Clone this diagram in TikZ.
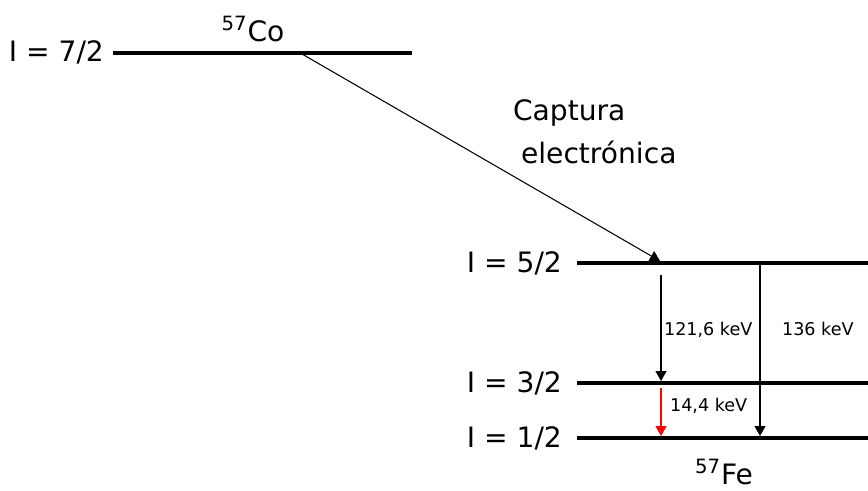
\documentclass[tikz,border=0pt]{standalone}
\usepackage{fontspec}
\setmainfont{DejaVu Sans}
\usetikzlibrary{arrows.meta}

\begin{document}
\begin{tikzpicture}[
  x=0.02cm, y=-0.02cm,
  every node/.style={inner sep=1pt},
  big/.style={font=\fontsize{16}{19}\selectfont},
  small/.style={font=\fontsize{10}{12}\selectfont},
  level/.style={draw, line width=2.2pt},
  trans/.style={draw, line width=0.6pt, -{Triangle[length=0.2cm, width=0.22cm]}}]

  \useasboundingbox (0,0) rectangle (868,490);

  % ---- levels -------------------------------------------------------------
  % 57Co
  \node[big, anchor=east] (l72) at (106,52) {I = 7/2};
  \coordinate (co0) at (113,53);
  \coordinate (co1) at (412,53);
  \draw[level] (co0) -- (co1);
  \node[big] (co) at (253,29) {\textsuperscript{57}Co};

  % 57Fe
  \node[big, anchor=east] (l52) at (564,263) {I = 5/2};
  \node[big, anchor=east] (l32) at (564,383) {I = 3/2};
  \node[big, anchor=east] (l12) at (564,438) {I = 1/2};
  \coordinate (a0) at (577,263);
  \coordinate (a1) at (868,263);
  \coordinate (b0) at (577,383);
  \coordinate (b1) at (868,383);
  \coordinate (c0) at (577,438);
  \coordinate (c1) at (868,438);
  \draw[level] (a0) -- (a1);
  \draw[level] (b0) -- (b1);
  \draw[level] (c0) -- (c1);
  \node[big] (fe) at (724,472) {\textsuperscript{57}Fe};

  % ---- transitions --------------------------------------------------------
  \coordinate (ec0) at (302,54);
  \coordinate (ec1) at (660,261);
  \draw[trans] (ec0) -- (ec1);
  \node[big, anchor=west] (capt) at (511,113) {Captura};
  \node[big, anchor=west] (elec) at (519,152) {electrónica};

  \coordinate (g1a) at (661,275);
  \coordinate (g1b) at (661,381);
  \coordinate (g2a) at (661,388);
  \coordinate (g2b) at (661,436);
  \coordinate (g3a) at (760,265);
  \coordinate (g3b) at (760,436);
  \draw[trans] (g1a) -- (g1b);
  \draw[trans, red] (g2a) -- (g2b);
  \draw[trans] (g3a) -- (g3b);
  \node[small, anchor=west] (e1) at (662,330) {121,6 keV};
  \node[small, anchor=west] (e3) at (780,329) {136 keV};
  \node[small, anchor=west] (e2) at (668,406) {14,4 keV};
\end{tikzpicture}
\end{document}
